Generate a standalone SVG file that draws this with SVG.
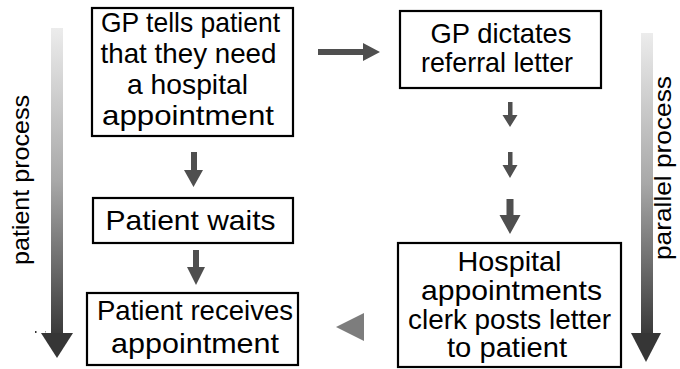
<svg xmlns="http://www.w3.org/2000/svg" width="680" height="369" viewBox="0 0 680 369">
  <defs>
    <linearGradient id="flowShade" x1="0" y1="0" x2="0" y2="1">
      <stop offset="0" stop-color="#ececec"/>
      <stop offset="0.5" stop-color="#a8a8a8"/>
      <stop offset="1" stop-color="#3a3a3a"/>
    </linearGradient>
    <style>
      .box { fill: #fff; stroke: #000; stroke-width: 2.2; }
      .label { font-family: "Liberation Sans", Arial, sans-serif; font-size: 28px; fill: #000; text-anchor: middle; }
      .side { font-family: "Liberation Sans", Arial, sans-serif; font-size: 24px; fill: #000; text-anchor: middle; }
      .arrow { fill: #4f4f4f; }
      .back { fill: #7d7d7d; }
      .flow { fill: url(#flowShade); }
      .flowhead { fill: #363636; }
    </style>
  </defs>

  <!-- side process arrows -->
  <g id="patient-process">
    <rect class="flow" x="51" y="28" width="12" height="306"/>
    <polygon class="flowhead" points="41,333 73,333 57,358"/>
    <rect x="35" y="331" width="1.5" height="2" fill="#333"/>
    <rect x="45" y="331" width="1" height="1.5" fill="#999"/>
    <text class="side" transform="translate(29,180) rotate(-90)" textLength="170" lengthAdjust="spacingAndGlyphs">patient process</text>
  </g>
  <g id="parallel-process">
    <rect class="flow" x="641" y="33" width="12" height="301"/>
    <polygon class="flowhead" points="631,333 661,333 646,362"/>
    <text class="side" transform="translate(671,168) rotate(-90)" textLength="184" lengthAdjust="spacingAndGlyphs">parallel process</text>
  </g>

  <!-- process steps -->
  <g id="gp-tells">
    <rect class="box" x="92" y="8" width="201" height="128"/>
    <text class="label" x="190.5" y="32" textLength="179" lengthAdjust="spacingAndGlyphs">GP tells patient</text>
    <text class="label" x="188.5" y="63" textLength="176" lengthAdjust="spacingAndGlyphs">that they need</text>
    <text class="label" x="187.5" y="94" textLength="121" lengthAdjust="spacingAndGlyphs">a hospital</text>
    <text class="label" x="188" y="125" textLength="172" lengthAdjust="spacingAndGlyphs">appointment</text>
  </g>
  <g id="gp-dictates">
    <rect class="box" x="400" y="11" width="201" height="77"/>
    <text class="label" x="501" y="43" textLength="141" lengthAdjust="spacingAndGlyphs">GP dictates</text>
    <text class="label" x="497" y="72" textLength="152" lengthAdjust="spacingAndGlyphs">referral letter</text>
  </g>
  <g id="patient-waits">
    <rect class="box" x="93" y="198" width="200" height="45"/>
    <text class="label" x="190.5" y="230" textLength="170" lengthAdjust="spacingAndGlyphs">Patient waits</text>
  </g>
  <g id="patient-receives">
    <rect class="box" x="87" y="293" width="211" height="72"/>
    <text class="label" x="195" y="320" textLength="196" lengthAdjust="spacingAndGlyphs">Patient receives</text>
    <text class="label" x="195" y="353" textLength="168" lengthAdjust="spacingAndGlyphs">appointment</text>
  </g>
  <g id="clerk-posts">
    <rect class="box" x="398" y="243" width="223" height="124"/>
    <text class="label" x="509.5" y="271" textLength="104" lengthAdjust="spacingAndGlyphs">Hospital</text>
    <text class="label" x="511.5" y="300" textLength="181" lengthAdjust="spacingAndGlyphs">appointments</text>
    <text class="label" x="509.5" y="329" textLength="203" lengthAdjust="spacingAndGlyphs">clerk posts letter</text>
    <text class="label" x="507" y="357" textLength="120" lengthAdjust="spacingAndGlyphs">to patient</text>
  </g>

  <!-- connectors -->
  <g id="connectors">
    <polygon class="arrow" points="318,49 363,49 363,43 380,52 363,61 363,55 318,55"/>
    <polygon class="arrow" points="191,152 197,152 197,170 203,170 193.5,187 184,170 191,170"/>
    <polygon class="arrow" points="193,250 199,250 199,267 205,267 196,285 187,267 193,267"/>
    <polygon class="arrow" points="508,102 512.5,102 512.5,115 517.5,115 510,127 502.5,115 508,115"/>
    <polygon class="arrow" points="508,152 512.5,152 512.5,165 517.5,165 510,178 502.5,165 508,165"/>
    <polygon class="arrow" points="506.5,199 513.5,199 513.5,215 520.5,215 510,234 499.5,215 506.5,215"/>
    <polygon class="back" points="364,313 364,341 336,327"/>
  </g>
</svg>
